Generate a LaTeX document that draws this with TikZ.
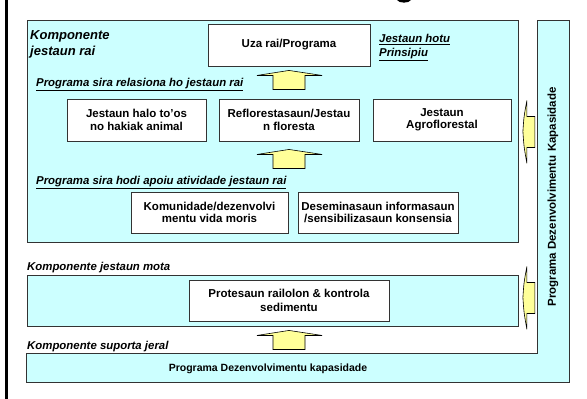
\documentclass[tikz,border=0pt]{standalone}
\usepackage{fontspec}
\setmainfont{Liberation Sans}
\usetikzlibrary{calc}
\definecolor{cyanfill}{HTML}{CCFFFF}
\definecolor{yel}{HTML}{FFFF99}
\definecolor{edge}{HTML}{333333}
\tikzset{
  panel/.style={draw=edge, line width=0.9pt, fill=cyanfill, inner sep=0pt, anchor=north west},
  wbox/.style={draw=edge, line width=0.9pt, fill=white, inner sep=0pt, align=center,
    font=\fontsize{11.5}{12.5}\selectfont\bfseries},
  lab/.style={inner sep=0pt, anchor=base west, font=\fontsize{11.4}{14}\selectfont\bfseries\itshape},
  arrfill/.style={draw=black, line width=0.6pt, fill=yel, line join=miter},
  uparr/.pic={\draw[arrfill] (-32,5) -- (0,0) -- (33,5) -- (16,5) -- (16,19) -- (-16,19) -- (-16,5) -- cycle;},
  leftarr/.pic={\draw[arrfill] (4,-31) .. controls (1,-15) .. (0,0) .. controls (1,15) .. (4,32) -- (4,16) -- (12,16) -- (12,-15) -- (4,-15) -- cycle;}
}
\begin{document}
\begin{tikzpicture}[x=1pt,y=-1pt]
\useasboundingbox[fill=white] (0,0) rectangle (587,399);
% left frame line and title fragment
\draw[line width=2.5pt] (6.3,0) -- (6.3,399);
\fill[black] (397,0) .. controls (399,3.5) and (409,3.5) .. (411,0) -- cycle;

% L-shaped capacity programme
\path[draw=edge, line width=0.9pt, fill=cyanfill] (537,20) -- (569,20) -- (569,382) -- (26,382) -- (26,353) -- (537,353) -- cycle;
\node[rotate=90, inner sep=0pt, font=\fontsize{11.5}{13}\selectfont\bfseries] (kapv) at (553,197) {Programa Dezenvolvimentu Kapasidade};
\node[inner sep=0pt, font=\fontsize{10.5}{12}\selectfont\bfseries] (kaph) at (268,369) {Programa Dezenvolvimentu kapasidade};

% panels
\node[panel, minimum width=491pt, minimum height=222pt] (rai) at (27,20) {};
\node[panel, minimum width=491pt, minimum height=51pt] (mota) at (27,275) {};

% boxes
\node[wbox, minimum width=162pt, minimum height=42pt] (uza) at (289,45) {Uza rai/Programa};
\node[wbox, minimum width=139pt, minimum height=42pt] (halo) at (136.5,120) {Jestaun halo to'os\\no hakiak animal};
\node[wbox, minimum width=140pt, minimum height=42pt] (refl) at (289,120) {Reflorestasaun/Jestau\\n floresta};
\node[wbox, minimum width=138pt, minimum height=42pt] (agro) at (442,120) {Jestaun\\Agroflorestal};
\node[wbox, minimum width=157pt, minimum height=41pt] (komu) at (209.5,212.5) {Komunidade/dezenvolvi\\mentu vida moris};
\node[wbox, minimum width=160pt, minimum height=41pt] (dese) at (378,212.5) {Deseminasaun informasaun\\/sensibilizasaun konsensia};
\node[wbox, minimum width=200pt, minimum height=41pt, font=\fontsize{11.5}{14.5}\selectfont\bfseries] (prot) at (289,300.5) {Protesaun railolon \& kontrola\\sedimentu};

% labels
\node[lab, font=\fontsize{13}{15}\selectfont\bfseries\itshape] (komp1) at (30,39.3) {Komponente};
\node[lab, font=\fontsize{13}{15}\selectfont\bfseries\itshape] (komp2) at (30,55) {jestaun rai};
\node[lab] (hotu1) at (379,42.3) {\underline{Jestaun hotu}};
\node[lab] (hotu2) at (379,56) {\underline{Prinsipiu}};
\node[lab] (rel) at (36,86) {\underline{Programa sira relasiona ho jestaun rai}};
\node[lab] (apo) at (36,184) {\underline{Programa sira hodi apoiu atividade jestaun rai}};
\node[lab] (mot) at (27,270.5) {Komponente jestaun mota};
\node[lab] (sup) at (27,349.3) {Komponente suporta jeral};

% block arrows
\coordinate (a1) at ($(uza.south)+(0,4)$);
\coordinate (a2) at ($(refl.south)+(0,8)$);
\coordinate (a3) at ($(prot.south)+(0,9)$);
\coordinate (a4) at ($(rai.east)+(4,0)$);
\coordinate (a5) at ($(mota.east)+(4,-3.5)$);
\pic at (a1) {uparr};
\pic at (a2) {uparr};
\pic at (a3) {uparr};
\pic at (a4) {leftarr};
\pic at (a5) {leftarr};
\end{tikzpicture}
\end{document}
